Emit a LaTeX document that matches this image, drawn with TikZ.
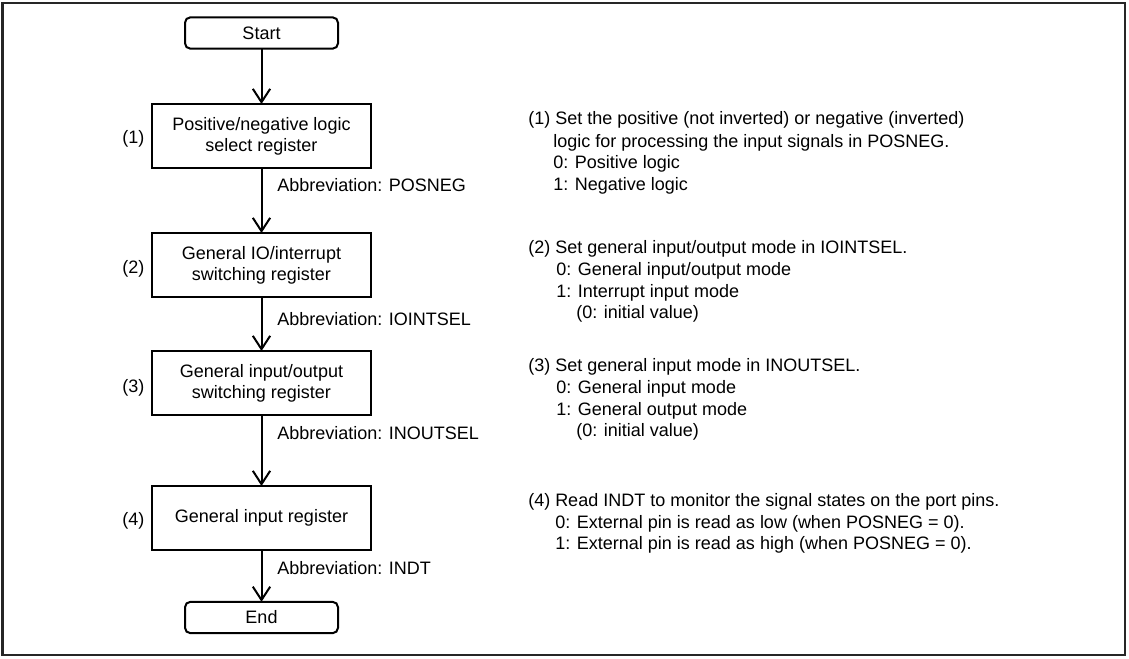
\documentclass[tikz,border=0pt]{standalone}
\usepackage{fontspec}
\setmainfont{Liberation Sans}
\usetikzlibrary{arrows.meta}
\begin{document}
\begin{tikzpicture}[x=0.75pt,y=-0.75pt,
  font=\fontsize{13.5}{15.75}\selectfont,
  box/.style={draw, line width=1.5pt, align=center, inner sep=0pt, outer sep=0pt, minimum width=164.25pt, minimum height=48pt},
  term/.style={draw, line width=1.5pt, rounded corners=4pt, inner sep=0pt, outer sep=0pt, minimum width=114.75pt, minimum height=23.5pt},
  arr/.style={line width=1.5pt, -{Straight Barb[length=10pt,width=13pt]}},
  txt/.style={anchor=base west, inner sep=0pt},
  num/.style={anchor=base west, inner sep=0pt}
]
\useasboundingbox (0,0) rectangle (1129,658);
\draw[line width=1.5pt, black!85] (2.5,2.5) rectangle (1125,655);

\node[term] (start) at (261.5,33) {Start};
\node[box] (b1) at (261.5,136) {Positive/negative logic\\select register};
\node[box] (b2) at (261.5,265) {General IO/interrupt\\switching register};
\node[box] (b3) at (261.5,383) {General input/output\\switching register};
\node[box] (b4) at (261.5,518) {General input register};
\node[term] (end) at (261.5,617.5) {End};

\draw[arr] (start) -- (b1);
\draw[arr] (b1) -- (b2);
\draw[arr] (b2) -- (b3);
\draw[arr] (b3) -- (b4);
\draw[arr] (b4) -- (end);

\node[num] (n1) at (122,143.5) {(1)};
\node[num] (n2) at (122,273.5) {(2)};
\node[num] (n3) at (122,392.5) {(3)};
\node[num] (n4) at (122,525.5) {(4)};

\node[txt] (a1) at (277,191.5) {Abbreviation: POSNEG};
\node[txt] (a2) at (277,325.5) {Abbreviation: IOINTSEL};
\node[txt] (a3) at (277,439.5) {Abbreviation: INOUTSEL};
\node[txt] (a4) at (277,574.5) {Abbreviation: INDT};

\node[txt] (d1a) at (528,124.5) {(1) Set the positive (not inverted) or negative (inverted)};
\node[txt] (d1b) at (553,147) {logic for processing the input signals in POSNEG.};
\node[txt] (d1c) at (553,168.5) {0: Positive logic};
\node[txt] (d1d) at (553,190) {1: Negative logic};

\node[txt] (d2a) at (528,253.5) {(2) Set general input/output mode in IOINTSEL.};
\node[txt] (d2b) at (556,275.5) {0: General input/output mode};
\node[txt] (d2c) at (556,297.5) {1: Interrupt input mode};
\node[txt] (d2d) at (576,318.5) {(0: initial value)};

\node[txt] (d3a) at (528,371.5) {(3) Set general input mode in INOUTSEL.};
\node[txt] (d3b) at (556,393.5) {0: General input mode};
\node[txt] (d3c) at (556,415.5) {1: General output mode};
\node[txt] (d3d) at (576,436.5) {(0: initial value)};

\node[txt] (d4a) at (528,506.5) {(4) Read INDT to monitor the signal states on the port pins.};
\node[txt] (d4b) at (555,528.5) {0: External pin is read as low (when POSNEG = 0).};
\node[txt] (d4c) at (555,549.5) {1: External pin is read as high (when POSNEG = 0).};
\end{tikzpicture}
\end{document}
